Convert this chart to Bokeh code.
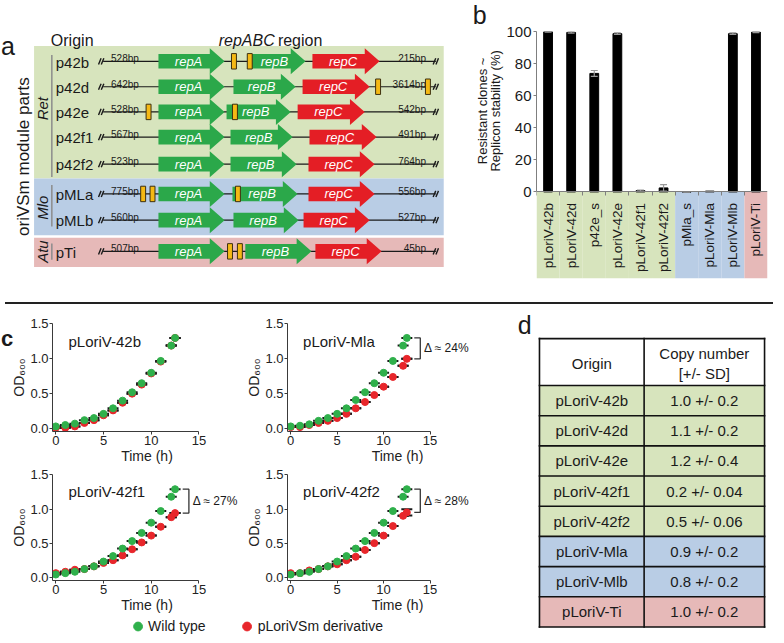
import math
from bokeh.plotting import figure
from bokeh.layouts import row, column
from bokeh.models import Range1d, FixedTicker, NumeralTickFormatter, Legend, LegendItem, Div
from bokeh.core.properties import value
from bokeh.embed import file_html
from bokeh.resources import INLINE

FONT = "Liberation Sans"
F = value(FONT)

# ===================== DATA =====================
# (a) replicon maps of the oriVSm module parts
origins = ["p42b", "p42d", "p42e", "p42f1", "p42f2", "pMLa", "pMLb", "pTi"]
origin_group = ["Ret", "Ret", "Ret", "Ret", "Ret", "Mlo", "Mlo", "Atu"]
upstream_bp = ["528bp", "642bp", "528bp", "567bp", "523bp", "775bp", "560bp", "507bp"]
downstream_bp = ["215bp", "3614bp", "542bp", "491bp", "764bp", "556bp", "527bp", "45bp"]
repA_start = [166, 166, 166, 166, 166, 166, 166, 166]
repA_end = [233, 233, 233, 233, 233, 233, 233, 233]
repB_start = [258, 242, 235, 239, 239, 241, 242, 254]
repB_end = [315, 305, 300, 302, 306, 307, 308, 321]
repC_start = [322, 312, 307, 319, 318, 318, 313, 325]
repC_end = [390, 380, 375, 387, 385, 385, 380, 392]
site_origin = ["p42b", "p42b", "p42d", "p42d", "p42e", "p42e", "pMLa", "pMLa", "pMLa", "pTi", "pTi"]
site_pos = [242.5, 258.5, 388.5, 439.0, 156.0, 243.5, 150.5, 160.0, 246.5, 238.5, 248.5]

# (b) replicon stability
stab_names = ["pLoriV-42b", "pLoriV-42d", "p42e_s", "pLoriV-42e", "pLoriV-42f1",
              "pLoriV-42f2", "pMla_s", "pLoriV-Mla", "pLoriV-Mlb", "pLoriV-Ti"]
stab_group = ["Ret", "Ret", "Ret", "Ret", "Ret", "Ret", "Mlo", "Mlo", "Mlo", "Atu"]
stab_value = [100.0, 99.6, 74.0, 98.8, 0.8, 2.5, 0.0, 0.5, 98.8, 99.8]
stab_err = [0.3, 0.5, 1.8, 0.5, 0.4, 2.0, 0.0, 0.3, 0.5, 0.3]
stab_ylabel = ["Resistant clones ~", "Replicon stability (%)"]

# (c) growth curves (OD600 over time)
time_h = [0, 1, 2, 3, 4, 5, 6, 7, 8, 9, 10, 11, 12.1, 12.5]
growth_names = ["pLoriV-42b", "pLoriV-Mla", "pLoriV-42f1", "pLoriV-42f2"]
wt_42b = [0.03, 0.05, 0.07, 0.12, 0.15, 0.21, 0.29, 0.40, 0.52, 0.65, 0.80, 0.97, 1.19, 1.30]
mut_42b = [0.01, 0.01, 0.03, 0.08, 0.12, 0.19, 0.26, 0.37, 0.50, 0.63, 0.79, 0.96, 1.19, 1.30]
wt_mla = [0.03, 0.04, 0.06, 0.11, 0.15, 0.21, 0.29, 0.41, 0.52, 0.65, 0.80, 0.97, 1.19, 1.30]
mut_mla = [0.02, 0.02, 0.05, 0.08, 0.11, 0.15, 0.21, 0.29, 0.38, 0.48, 0.60, 0.74, 0.90, 1.00]
wt_42f1 = [0.04, 0.06, 0.08, 0.12, 0.16, 0.23, 0.31, 0.42, 0.53, 0.65, 0.80, 0.97, 1.18, 1.29]
mut_42f1 = [0.06, 0.08, 0.11, 0.12, 0.16, 0.21, 0.25, 0.32, 0.41, 0.51, 0.61, 0.74, 0.88, 0.94]
wt_42f2 = [0.04, 0.06, 0.08, 0.12, 0.16, 0.23, 0.31, 0.42, 0.53, 0.65, 0.80, 0.97, 1.18, 1.29]
mut_42f2 = [0.06, 0.06, 0.10, 0.12, 0.16, 0.19, 0.25, 0.30, 0.40, 0.50, 0.61, 0.75, 0.90, 0.95]
mut_err_42f2 = [0, 0, 0, 0, 0, 0, 0, 0, 0, 0, 0, 0, 0, 0.045]
no_err = [0] * 14
delta_labels = [None, "Δ ≈ 24%", "Δ ≈ 27%", "Δ ≈ 28%"]
legend_labels = ["Wild type", "pLoriVSm derivative"]

# (d) copy numbers
cn_names = ["pLoriV-42b", "pLoriV-42d", "pLoriV-42e", "pLoriV-42f1", "pLoriV-42f2",
            "pLoriV-Mla", "pLoriV-Mlb", "pLoriV-Ti"]
cn_group = ["Ret", "Ret", "Ret", "Ret", "Ret", "Mlo", "Mlo", "Atu"]
cn_mean = [1.0, 1.1, 1.2, 0.2, 0.5, 0.9, 0.8, 1.0]
cn_sd = [0.2, 0.2, 0.4, 0.04, 0.06, 0.2, 0.2, 0.2]

# ===================== STYLE =====================
GROUP_FILL = {"Ret": "#d7e4bd", "Mlo": "#b9cde5", "Atu": "#e6b9b8"}
ARROW_GREEN = "#2ba84a"
ARROW_RED = "#e41e25"
SITE_FILL = "#f5b914"
WT_COLOR = "#2fb04b"
MUT_COLOR = "#e8262b"
INK = "#1a1a1a"

# ===================== LAYOUT GEOMETRY =====================
KX = 768 / 778.0
KY = 627 / 642.0
RX0, RY0 = 6.0, 1.0


def px(r):
    return (r - RX0) * KX


def py(r):
    return (r - RY0) * KY


def lin(v0, p0, v1, p1, p):
    return v0 + (p - p0) * (v1 - v0) / (p1 - p0)


W, H = 768, 627
HT = round(py(305))
SEP = 2
TOP_B = HT + SEP
HB = H - TOP_B
WA = round(px(478))
WB = W - WA
WC = round(px(522))
WD = W - WC
WC1 = round(px(252))
WC2 = WC - WC1
HC1 = round(py(468)) - TOP_B
HL = 22
HC2 = HB - HC1 - HL


def canvas(w, h, left, top):
    xr = Range1d(RX0 + left / KX, RX0 + (left + w) / KX)
    yr = Range1d(-(RY0 + (top + h) / KY), -(RY0 + top / KY))
    p = figure(width=w, height=h, x_range=xr, y_range=yr, x_axis_location=None,
               y_axis_location=None, min_border=0, outline_line_color=None,
               toolbar_location=None, output_backend="svg", title=None)
    p.grid.visible = False
    return p


def txt(p, x, y, t, size, align="left", baseline="middle", style="normal",
        color=INK, angle=0.0, level="glyph"):
    p.text(x=x, y=y, text=t, text_font=F, text_font_size=size, text_align=align,
           text_baseline=baseline, text_font_style=style, text_color=color, angle=angle,
           level=level)


# ===================== PANEL A =====================
pA = canvas(WA, HT, 0, 0)
row_y = [37.7, 69.0, 100.0, 131.0, 164.3, 201.0, 233.3, 271.7]
ny = [-y for y in row_y]
groups = []
for g in origin_group:
    if g not in groups:
        groups.append(g)
band_edges = {"Ret": (19, 182), "Mlo": (182, 252), "Atu": (255, 291)}
group_line = {"Ret": (30, 180), "Mlo": (190, 241), "Atu": (262, 282)}
group_label_y = {"Ret": 96, "Mlo": 218, "Atu": 272}

pA.quad(left=40, right=455, top=[-band_edges[g][0] for g in groups],
        bottom=[-band_edges[g][1] for g in groups],
        fill_color=[GROUP_FILL[g] for g in groups], line_color=None)
pA.segment(x0=58, x1=58, y0=[-group_line[g][0] for g in groups],
           y1=[-group_line[g][1] for g in groups], line_color="#8c8c8c", line_width=1.5)
txt(pA, [49] * len(groups), [-group_label_y[g] for g in groups], groups, "15px",
    align="center", style="italic", angle=math.pi / 2)

# backbone lines with break marks
pA.segment(x0=110, x1=447, y0=ny, y1=ny, line_color=INK, line_width=1.2)
sx0, sx1, sy0, sy1 = [], [], [], []
for y in row_y:
    for cx in (108, 447):
        for d in (-1.4, 1.4):
            sx0.append(cx + d - 1.3)
            sx1.append(cx + d + 1.3)
            sy0.append(-(y + 3.8))
            sy1.append(-(y - 3.8))
pA.segment(x0=sx0, x1=sx1, y0=sy0, y1=sy1, line_color=INK, line_width=1.4)

txt(pA, [118] * len(origins), [-(y - 3.2) for y in row_y], upstream_bp, "10px",
    baseline="alphabetic")
txt(pA, [437] * len(origins), [-(y - 3.2) for y in row_y], downstream_bp, "10px",
    align="right", baseline="alphabetic")


def arrow_poly(s, e, y, h=9.0, hh=16.0, hl=15.0):
    hs = e - hl
    return ([s, hs, hs, e, hs, hs, s],
            [-(y - h), -(y - h), -(y - hh), -y, -(y + hh), -(y + h), -(y + h)])


axs, ays, acol = [], [], []
lx, ly, lt = [], [], []
for i, y in enumerate(row_y):
    for s, e, col, name in ((repA_start[i], repA_end[i], ARROW_GREEN, "repA"),
                            (repB_start[i], repB_end[i], ARROW_GREEN, "repB"),
                            (repC_start[i], repC_end[i], ARROW_RED, "repC")):
        xs, ys = arrow_poly(s, e, y)
        axs.append(xs)
        ays.append(ys)
        acol.append(col)
        lx.append((s + e) / 2.0 - 3)
        ly.append(-y)
        lt.append(name)
pA.patches(xs=axs, ys=ays, fill_color=acol, line_color=None)
txt(pA, lx, ly, lt, "13px", align="center", style="italic", color="white")

pA.rect(x=site_pos, y=[-row_y[origins.index(o)] for o in site_origin], width=5, height=19,
        fill_color=SITE_FILL, line_color="#3d3010", line_width=1)

txt(pA, [62] * len(origins), [-(y + 1) for y in row_y], origins, "15px")
txt(pA, [57], [-11.5], ["Origin"], "16px")
txt(pA, [227], [-11.5], ["repABC"], "16px", style="italic")
txt(pA, [287], [-11.5], ["region"], "16px")
txt(pA, [29], [-155], ["oriVSm module parts"], "17px", align="center", angle=math.pi / 2)
txt(pA, [RX0 + 0.6], [-19], ["a"], "25px", baseline="alphabetic", level="overlay")

# ===================== PANEL B =====================
mbl_b = round(px(549) - WA)
mbr_b = W - round(px(783))
mbt_b = round(py(33))
mbb_b = HT - round(py(286))


def bfx(pp):
    return lin(0.0, px(549), 10.0, px(783), pp)


def bfy(pp):
    return lin(0.0, py(197), 100.0, py(33), pp)


pB = figure(width=WB, height=HT,
            x_range=Range1d(bfx(WA + mbl_b), bfx(W - mbr_b)),
            y_range=Range1d(bfy(HT - mbb_b), bfy(mbt_b)),
            min_border_left=mbl_b, min_border_right=mbr_b, min_border_top=mbt_b,
            min_border_bottom=mbb_b, outline_line_color=None, toolbar_location=None,
            output_backend="svg", title=None)
pB.grid.visible = False
n_b = len(stab_names)
cx_b = [i + 0.5 for i in range(n_b)]
y_bottom_b = pB.y_range.start
pB.quad(left=list(range(n_b)), right=[i + 1 for i in range(n_b)], top=0, bottom=y_bottom_b,
        fill_color=[GROUP_FILL[g] for g in stab_group], line_color=None)
pB.vbar(x=cx_b, top=stab_value, width=0.38, fill_color="black", line_color="black")
err_hi = [v + e for v, e in zip(stab_value, stab_err)]
err_lo = [max(v - e, 0) for v, e in zip(stab_value, stab_err)]
pB.segment(x0=cx_b, x1=cx_b, y0=err_lo, y1=err_hi, line_color="#999999", line_width=1.2)
pB.segment(x0=[c - 0.15 for c in cx_b], x1=[c + 0.15 for c in cx_b], y0=err_hi, y1=err_hi,
           line_color="#999999", line_width=1.2)
pB.segment(x0=[c - 0.15 for c in cx_b], x1=[c + 0.15 for c in cx_b], y0=err_lo, y1=err_lo,
           line_color="#999999", line_width=1.2)
txt(pB, cx_b, [bfy(py(208.3))] * n_b, stab_names, "13.5px", align="right",
    angle=math.pi / 2, level="overlay")

ya = pB.yaxis[0]
ya.ticker = FixedTicker(ticks=[0, 20, 40, 60, 80, 100])
ya.bounds = (0, 100)
ya.axis_line_color = "#7f7f7f"
ya.major_tick_line_color = "#7f7f7f"
ya.minor_tick_line_color = None
ya.major_tick_in = 0
ya.major_tick_out = 3
ya.major_label_standoff = 2
ya.major_label_text_font = FONT
ya.major_label_text_font_size = "15px"
ya.major_label_text_color = INK

xa = pB.xaxis[0]
xa.fixed_location = 0
xa.ticker = FixedTicker(ticks=list(range(n_b + 1)))
xa.major_label_overrides = {i: "" for i in range(n_b + 1)}
xa.major_label_text_font_size = "1px"
xa.axis_line_color = "#7f7f7f"
xa.major_tick_line_color = "#7f7f7f"
xa.minor_tick_line_color = None
xa.major_tick_in = 0
xa.major_tick_out = 4

# y-axis title (two lines) and panel letter, drawn unclipped
txt(pB, [bfx(px(494)), bfx(px(507.5))], [bfy(py(114))] * 2, stab_ylabel, "13px",
    align="center", angle=math.pi / 2, level="overlay")
txt(pB, [bfx(px(491.5))], [bfy(0.5)], ["b"], "25px", align="center", baseline="top",
    level="overlay")

# ===================== SEPARATOR =====================
sep = Div(text="", width=W, height=SEP, styles={"background-color": "#222222"})


# ===================== PANEL C =====================
def growth_panel(left, top, w, h, x0r, x15r, y0r, y15r, title, wt, mut, mut_err, delta):
    mbl = round(px(x0r - 3) - left)
    mbr = 2
    mbt = round(py(y15r) - top)
    mbb = top + h - round(py(y0r + 3))

    def fx(pp):
        return lin(0.0, px(x0r), 15.0, px(x15r), pp)

    def fy(pp):
        return lin(0.0, py(y0r), 1.5, py(y15r), pp)

    xr = Range1d(fx(left + mbl), fx(left + w - mbr))
    yr = Range1d(fy(top + h - mbb), fy(top + mbt))
    p = figure(width=w, height=h, x_range=xr, y_range=yr, min_border_left=mbl,
               min_border_right=mbr, min_border_top=mbt, min_border_bottom=mbb,
               outline_line_color=None, toolbar_location=None, output_backend="svg",
               title=None)
    p.grid.visible = False
    ax = p.xaxis[0]
    ay = p.yaxis[0]
    ax.ticker = FixedTicker(ticks=[0, 5, 10, 15])
    ax.bounds = (xr.start, 15)
    ay.ticker = FixedTicker(ticks=[0, 0.5, 1.0, 1.5])
    ay.formatter = NumeralTickFormatter(format="0.0")
    for a in (ax, ay):
        a.axis_line_color = "#3a3a3a"
        a.major_tick_line_color = "#3a3a3a"
        a.minor_tick_line_color = None
        a.major_tick_in = 0
        a.major_tick_out = 3
        a.major_label_standoff = 1
        a.major_label_text_font = FONT
        a.major_label_text_font_size = "13px"
        a.major_label_text_color = "#222222"
        a.axis_label_text_font = FONT
        a.axis_label_text_font_size = "14px"
        a.axis_label_text_font_style = "normal"
        a.axis_label_text_color = "#222222"
        a.axis_label_standoff = 0
    ax.axis_label = "Time (h)"
    ay.axis_label = "OD₆₀₀"

    hi = [m + e for m, e in zip(mut, mut_err)]
    lo = [m - e for m, e in zip(mut, mut_err)]
    p.scatter(x=time_h, y=hi, marker="dash", size=11, line_width=2, line_color=INK)
    p.scatter(x=time_h, y=lo, marker="dash", size=11, line_width=2, line_color=INK)
    p.scatter(x=time_h, y=wt, marker="dash", size=11, line_width=2, line_color=INK)
    p.scatter(x=time_h, y=mut, size=7, fill_color=MUT_COLOR, line_color=MUT_COLOR)
    p.scatter(x=time_h, y=wt, size=7, fill_color=WT_COLOR, line_color=WT_COLOR)
    txt(p, [1.33], [1.25], [title], "15px")
    if delta:
        top_v, bot_v = wt[-1], mut[-1]
        p.line(x=[13.3, 13.95, 13.95, 13.3], y=[top_v, top_v, bot_v, bot_v],
               line_color="#333333", line_width=1.3)
        txt(p, [14.35], [(top_v + bot_v) / 2.0], [delta], "12px")
    return p, fx, fy


c1, c1fx, c1fy = growth_panel(0, TOP_B, WC1, HC1, 62, 207, 430, 322, growth_names[0],
                              wt_42b, mut_42b, no_err, delta_labels[0])
c2, _, _ = growth_panel(WC1, TOP_B, WC2, HC1, 294, 439, 430, 322, growth_names[1],
                        wt_mla, mut_mla, no_err, delta_labels[1])
c3, _, _ = growth_panel(0, TOP_B + HC1, WC1, HC2, 62, 207, 582.3, 476.5, growth_names[2],
                        wt_42f1, mut_42f1, no_err, delta_labels[2])
c4, _, _ = growth_panel(WC1, TOP_B + HC1, WC2, HC2, 294, 439, 582.3, 476.5, growth_names[3],
                        wt_42f2, mut_42f2, mut_err_42f2, delta_labels[3])
txt(c1, [c1fx(0.6)], [c1fy(py(337.5))], ["c"], "22px", baseline="alphabetic", style="bold",
    level="overlay")

pL = figure(width=WC, height=HL, x_range=Range1d(0, 1), y_range=Range1d(0, 1),
            x_axis_location=None, y_axis_location=None, min_border=0,
            outline_line_color=None, toolbar_location=None, output_backend="svg", title=None)
pL.grid.visible = False
r_wt = pL.scatter(x=[-5], y=[-5], size=7, fill_color=WT_COLOR, line_color=WT_COLOR)
r_mut = pL.scatter(x=[-5], y=[-5], size=7, fill_color=MUT_COLOR, line_color=MUT_COLOR)
leg = Legend(items=[LegendItem(label=legend_labels[0], renderers=[r_wt]),
                    LegendItem(label=legend_labels[1], renderers=[r_mut])],
             orientation="horizontal", location="center", spacing=30, padding=0, margin=0,
             glyph_width=22, glyph_height=22, label_standoff=0, label_height=22,
             label_text_font=FONT, label_text_font_size="14px", label_text_color=INK,
             border_line_color=None, background_fill_alpha=0)
pL.add_layout(leg)

# ===================== PANEL D =====================
pD = canvas(WD, HB, WC, TOP_B)
col_x = [552, 658, 780]
head_top, head_bot, row_h = 337.0, 385.0, 30.9
n_d = len(cn_names)
row_top = [head_bot + i * row_h for i in range(n_d)]
pD.quad(left=col_x[0], right=col_x[-1], top=-head_top, bottom=-head_bot,
        fill_color="white", line_color=None)
pD.quad(left=col_x[0], right=col_x[-1], top=[-t for t in row_top],
        bottom=[-(t + row_h) for t in row_top],
        fill_color=[GROUP_FILL[g] for g in cn_group], line_color=None)
h_lines = [head_top, head_bot] + [t + row_h for t in row_top]
pD.segment(x0=col_x[0], x1=col_x[-1], y0=[-y for y in h_lines], y1=[-y for y in h_lines],
           line_color="#111111", line_width=1.6, line_cap="square")
pD.segment(x0=col_x, x1=col_x, y0=-head_top, y1=-h_lines[-1],
           line_color="#111111", line_width=1.6, line_cap="square")
c1x = (col_x[0] + col_x[1]) / 2.0
c2x = (col_x[1] + col_x[2]) / 2.0
txt(pD, [c1x], [-362], ["Origin"], "15px", align="center")
txt(pD, [c2x, c2x], [-352, -373], ["Copy number", "[+/- SD]"], "15px", align="center")
mid = [-(t + row_h / 2.0) for t in row_top]
txt(pD, [c1x] * n_d, mid, cn_names, "15px", align="center")
txt(pD, [c2x] * n_d, mid, [f"{m:.1f} +/- {s:g}" for m, s in zip(cn_mean, cn_sd)], "15px",
    align="center")
txt(pD, [537], [-323], ["d"], "25px", align="center")

# ===================== ASSEMBLE =====================
layout = column(row(pA, pB), sep,
                row(column(row(c1, c2), row(c3, c4), pL), pD))
open("out.html", "w").write(file_html(layout, INLINE))
